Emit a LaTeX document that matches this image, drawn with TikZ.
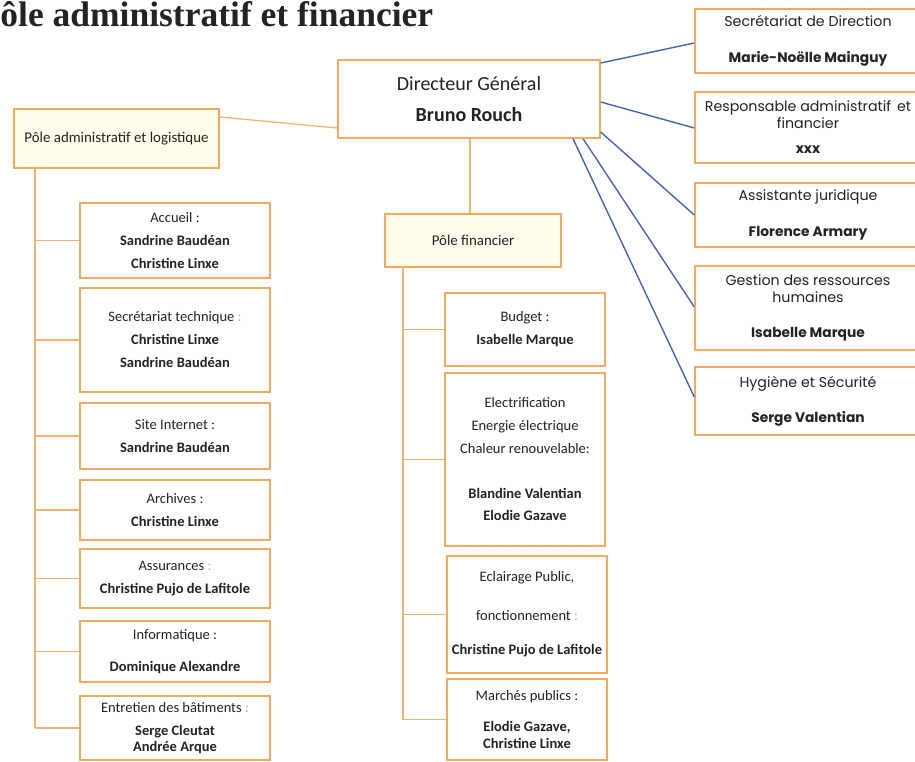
\documentclass[tikz,border=0pt]{standalone}
\usepackage{fontspec}
\setmainfont{Carlito}
\newfontfamily\gothic{Poppins}
\newfontfamily\titlefont{Liberation Serif}
\definecolor{boxor}{RGB}{246,168,92}
\definecolor{lineor}{RGB}{246,178,112}
\definecolor{blueln}{RGB}{68,100,182}
\definecolor{txt}{RGB}{35,35,35}
\definecolor{polefill}{RGB}{255,252,236}
\newcommand{\gb}[1]{{\fontsize{13.8}{20}\selectfont\bfseries #1}}
\begin{document}
\begin{tikzpicture}[x=1pt,y=-1pt,
  box/.style={draw=boxor, line width=1.4pt, fill=white, inner sep=0pt, align=center, text=txt},
  cbox/.style={box, font=\fontsize{14.5}{23}\selectfont},
  gbox/.style={box, font=\gothic\fontsize{14.2}{20}\selectfont},
  polebox/.style={cbox, fill=polefill},
  tree/.style={draw=lineor, line width=1.3pt},
  blue/.style={draw=blueln, line width=1.4pt}]
\useasboundingbox (0,0) rectangle (915,762);
\clip (0,0) rectangle (915,762);

% title (its first letter is cut by the page edge, as in the reference)
\node[anchor=base west, inner sep=0pt, font=\titlefont\bfseries\fontsize{35.5}{40}\selectfont, text=txt] (title) at (-21.5,27) {Pôle administratif et financier};

% director
\node[box, font=\fontsize{20}{31}\selectfont, minimum width=262pt, minimum height=78pt] (dg) at (469,99) {Directeur Général\\\textbf{Bruno Rouch}};

% poles
\node[polebox, font=\fontsize{14.9}{20}\selectfont, minimum width=205pt, minimum height=59pt] (padm) at (116.5,138.5) {Pôle administratif et logistique};
\node[polebox, font=\fontsize{14.9}{20}\selectfont, minimum width=176pt, minimum height=53pt] (pfin) at (473,240.5) {Pôle financier};

% left column
\node[cbox, minimum width=190pt, minimum height=75pt] (acc) at (175,240.5) {Accueil :\\\textbf{Sandrine Baudéan}\\\textbf{Christine Linxe}};
\node[cbox, minimum width=190pt, minimum height=104pt] (sect) at (175,340) {Secrétariat technique {\color{gray!60}:}\\\textbf{Christine Linxe}\\\textbf{Sandrine Baudéan}};
\node[cbox, minimum width=190pt, minimum height=66pt] (site) at (175,436) {Site Internet :\\\textbf{Sandrine Baudéan}};
\node[cbox, minimum width=190pt, minimum height=60pt] (arch) at (175,510) {Archives :\\\textbf{Christine Linxe}};
\node[cbox, minimum width=190pt, minimum height=59pt] (assu) at (175,578.5) {Assurances {\color{gray!60}:}\\\textbf{Christine Pujo de Lafitole}};
\node[cbox, minimum width=190pt, minimum height=61pt] (info) at (175,651.5) {Informatique :\\[9pt]\textbf{Dominique Alexandre}};
\node[cbox, minimum width=190pt, minimum height=64pt] (entr) at (175,728) {Entretien des bâtiments {\color{gray!60}:}\\\textbf{Serge Cleutat}\\[-7pt]\textbf{Andrée Arque}};

% financial column
\node[cbox, minimum width=160pt, minimum height=73pt] (budg) at (525,329.5) {Budget :\\\textbf{Isabelle Marque}};
\node[cbox, font=\fontsize{14.5}{22.6}\selectfont, minimum width=160pt, minimum height=173pt] (elec) at (525,459.5) {Electrification\\Energie électrique\\Chaleur renouvelable:\\[22.6pt]\textbf{Blandine Valentian}\\\textbf{Elodie Gazave}};
\node[cbox, minimum width=160pt, minimum height=117pt] (ecl) at (527,614.5) {Eclairage Public,\\[16pt]fonctionnement {\color{gray!60}:}\\[11pt]\textbf{Christine Pujo de Lafitole}};
\node[cbox, minimum width=160pt, minimum height=81pt] (marc) at (527,719.5) {Marchés publics :\\[8pt]\textbf{Elodie Gazave,}\\[-6pt]\textbf{Christine Linxe}};

% right column
\node[gbox, minimum width=226pt, minimum height=64pt] (secd) at (808,41) {Secrétariat de Direction\\[16pt]\gb{Marie-Noëlle Mainguy}};
\node[gbox, minimum width=226pt, minimum height=71pt] (resp) at (808,127.5) {Responsable administratif\, et\\[-3pt]financier\\[5pt]\gb{xxx}};
\node[gbox, minimum width=226pt, minimum height=64pt] (assi) at (808,215) {Assistante juridique\\[16pt]\gb{Florence Armary}};
\node[gbox, minimum width=226pt, minimum height=84pt] (gest) at (808,308) {Gestion des ressources\\[-3pt]humaines\\[15pt]\gb{Isabelle Marque}};
\node[gbox, minimum width=226pt, minimum height=68pt] (hyg) at (808,401) {Hygiène et Sécurité\\[15pt]\gb{Serge Valentian}};

% orange connectors
\draw[tree] (padm.east |- 0,117) -- (dg.west |- 0,128);
\draw[tree] (dg.south -| 470,0) -- (pfin.north -| 470,0);
\coordinate (lt) at (35,168);
\coordinate (lb) at (35,728);
\draw[tree] (lt) -- (lb);
\foreach \n in {acc,sect,site,arch,assu,info,entr}{
  \draw[tree] (\n.west -| lt) -- (\n.west);
}
\coordinate (ft) at (403,267);
\coordinate (fb) at (403,720);
\draw[tree] (ft) -- (fb);
\foreach \n in {budg,elec,ecl,marc}{
  \draw[tree] (\n.west -| ft) -- (\n.west);
}

% blue connectors
\draw[blue] (dg.east |- 0,63) -- (secd.west |- 0,43);
\draw[blue] (dg.east |- 0,102) -- (resp.west |- 0,128);
\draw[blue] (dg.east |- 0,132) -- (assi.west |- 0,215);
\draw[blue] (dg.south -| 583,0) -- (gest.west |- 0,307);
\draw[blue] (dg.south -| 573,0) -- (hyg.west |- 0,397);
\end{tikzpicture}
\end{document}
